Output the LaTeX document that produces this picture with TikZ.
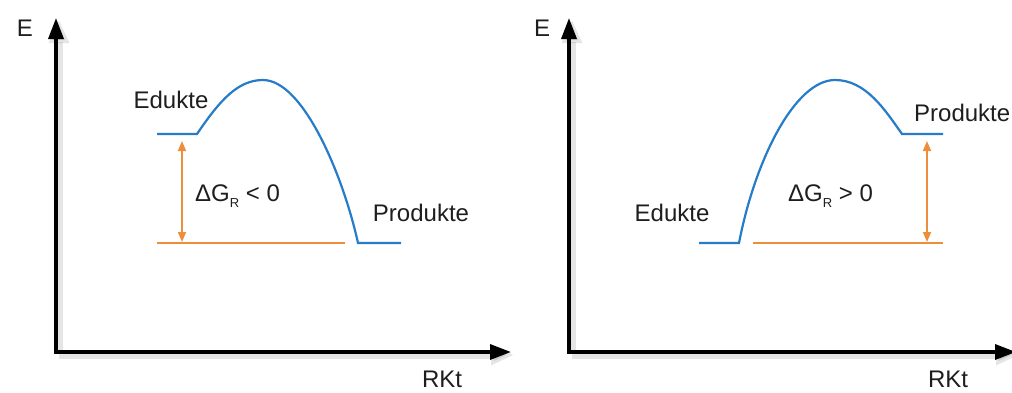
\documentclass[tikz,border=0pt]{standalone}
\usepackage{fontspec}
\setmainfont{Liberation Sans}
\usetikzlibrary{arrows.meta,calc}
\definecolor{curveblue}{RGB}{38,124,200}
\definecolor{dgorange}{RGB}{236,142,58}
\definecolor{txt}{RGB}{30,30,30}
\begin{document}
\begin{tikzpicture}[x=1pt,y=-1pt,
  lbl/.style={inner sep=0pt,text=txt,font=\fontsize{24}{27}\selectfont},
  axis/.style={line width=3.4pt,-{Triangle[length=21pt,width=15pt]}},
  axshadow/.style={line width=7pt,draw=black,opacity=0.10,-{Triangle[length=23pt,width=19pt]}},
  curve/.style={draw=curveblue,line width=2.2pt},
  level/.style={draw=dgorange,line width=2.2pt},
  dg/.style={draw=dgorange,line width=1.6pt,{Triangle[length=10pt,width=8pt]}-{Triangle[length=10pt,width=8pt]}}]
\useasboundingbox (0,0) rectangle (1012,392);
\fill[white] (0,0) rectangle (1012,392);

% ---------- left panel ----------
\coordinate (LO) at (56,352);
\coordinate (LYt) at (56,18);
\coordinate (LXt) at (511,352);
\draw[axshadow] ($(LO)+(3,2)$) -- ($(LYt)+(3,2)$);
\draw[axshadow] ($(LO)+(3,3)$) -- ($(LXt)+(3,3)$);
\draw[axis] (LO) -- (LYt);
\draw[axis] ([xshift=-1.7pt]LO) -- (LXt);

\coordinate (LEa) at (157,134);
\coordinate (LEb) at (197,134);
\coordinate (LTS) at (263,80);
\coordinate (LPa) at (358,243);
\coordinate (LPb) at (401,243);
\draw[curve] (LEa) -- (LEb) .. controls (220,100) and (238,80) .. (LTS)
  .. controls (303,80) and (343,175) .. (LPa) -- (LPb);
\coordinate (LLa) at (157,243);
\coordinate (LLb) at (345,243);
\draw[level] (LLa) -- (LLb);
\coordinate (LAt) at (182,141);
\coordinate (LAb) at (182,242);
\draw[dg] (LAt) -- (LAb);

\node[lbl] (LE) at (25,28) {E};
\node[lbl] (LEd) at (171,100) {Edukte};
\node[lbl,anchor=west] (LDG) at (195,196) {ΔG\raisebox{-0.5ex}{\fontsize{13}{13}\selectfont R} < 0};
\node[lbl] (LPr) at (421,213) {Produkte};
\node[lbl] (LR) at (442,379) {RKt};

% ---------- right panel ----------
\coordinate (RO) at (569,352);
\coordinate (RYt) at (569,18);
\coordinate (RXt) at (1016,352);
\draw[axshadow] ($(RO)+(3,2)$) -- ($(RYt)+(3,2)$);
\draw[axshadow] ($(RO)+(3,3)$) -- ($(RXt)+(3,3)$);
\draw[axis] (RO) -- (RYt);
\draw[axis] ([xshift=-1.7pt]RO) -- (RXt);

\coordinate (REa) at (699,243);
\coordinate (REb) at (739,243);
\coordinate (RTS) at (835,80);
\coordinate (RPa) at (902,134);
\coordinate (RPb) at (943,134);
\draw[curve] (REa) -- (REb) .. controls (755,160) and (795,80) .. (RTS)
  .. controls (866,80) and (885,110) .. (RPa) -- (RPb);
\coordinate (RLa) at (753,243);
\coordinate (RLb) at (943,243);
\draw[level] (RLa) -- (RLb);
\coordinate (RAt) at (927,141);
\coordinate (RAb) at (927,242);
\draw[dg] (RAt) -- (RAb);

\node[lbl] (RE) at (542,28) {E};
\node[lbl] (REd) at (672,213) {Edukte};
\node[lbl,anchor=west] (RDG) at (788,196) {ΔG\raisebox{-0.5ex}{\fontsize{13}{13}\selectfont R} > 0};
\node[lbl,anchor=west] (RPr) at (914,113) {Produkte};
\node[lbl] (RR) at (948,379) {RKt};
\end{tikzpicture}
\end{document}
